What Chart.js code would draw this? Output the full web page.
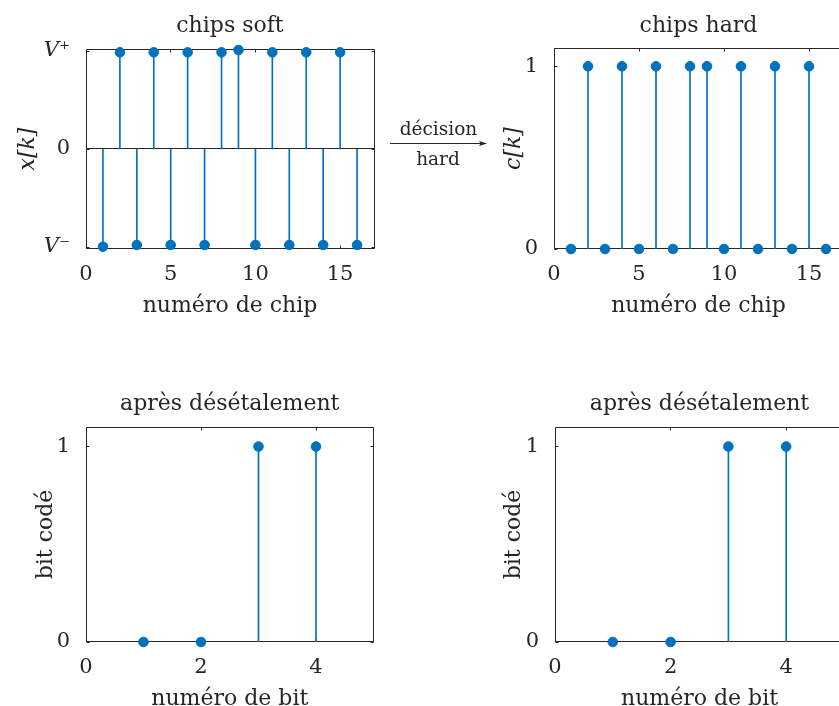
<!DOCTYPE html>
<html>
<head>
<meta charset="utf-8">
<script src="https://cdn.jsdelivr.net/npm/chart.js@4/dist/chart.umd.min.js"></script>
<style>
  html, body { margin: 0; padding: 0; width: 839px; height: 706px; overflow: hidden; background: #fff; }
  canvas { position: absolute; left: 0; top: 0; }
  #arrow { position: absolute; left: 0; top: 0; }
  #arrow text { font-family: "DejaVu Serif", serif; font-size: 18.5px; fill: #262626; }
</style>
</head>
<body>
<canvas id="soft" width="860" height="730"></canvas>
<canvas id="hard" width="860" height="730"></canvas>
<canvas id="bitsSoft" width="860" height="730"></canvas>
<canvas id="bitsHard" width="860" height="730"></canvas>
<svg id="arrow" width="839" height="706">
  <text x="438.5" y="135" text-anchor="middle">décision</text>
  <line x1="390" y1="143.5" x2="481" y2="143.5" stroke="#262626" stroke-width="1"/>
  <polygon points="487,143.5 479,141 480.5,143.5 479,146" fill="#262626"/>
  <text x="438" y="165" text-anchor="middle">hard</text>
</svg>
<script>
// chip / bit indices and values
const chipIndex = [1, 2, 3, 4, 5, 6, 7, 8, 9, 10, 11, 12, 13, 14, 15, 16];
const chipSoft = [-0.977, 0.967, -0.96, 0.967, -0.96, 0.967, -0.96, 0.967, 0.99, -0.96, 0.967, -0.96, 0.967, -0.96, 0.967, -0.96];
const chipHard = [0, 1, 0, 1, 0, 1, 0, 1, 1, 0, 1, 0, 1, 0, 1, 0];
const bitIndex = [1, 2, 3, 4];
const bitsFromSoft = [0, 0, 1, 1];
const bitsFromHard = [0, 0, 1, 1];

// tick positions and labels
const chipTicks = [0, 5, 10, 15];
const bitTicks = [0, 2, 4];
const softTicks = [-0.98, 0, 0.98];
const softTickLabels = ['V\u207B', '0', 'V\u207A'];
const binaryTicks = [0, 1];

const BLUE = '#0072BD';
const INK = '#262626';
const FAMILY = 'DejaVu Serif';
const W = 860, H = 730;
const LABEL_SIZE = 22, TICK_SIZE = 21;
const LH = LABEL_SIZE * 1.2;

Chart.defaults.font.family = FAMILY;
Chart.defaults.color = INK;

// box around the axes, inward tick marks and the stem baseline
const axesFrame = {
  id: 'axesFrame',
  beforeDatasetsDraw(chart) {
    const { ctx, chartArea: a, scales: { x, y } } = chart;
    const crisp = v => Math.floor(v) + 0.5;
    const L = crisp(a.left), R = crisp(a.right), T = crisp(a.top), B = crisp(a.bottom - 0.5);
    const tl = 3;
    ctx.save();
    ctx.strokeStyle = INK;
    ctx.lineWidth = 1;
    ctx.beginPath();
    ctx.moveTo(L, T); ctx.lineTo(R, T); ctx.lineTo(R, B); ctx.lineTo(L, B); ctx.closePath();
    x.ticks.forEach(t => {
      const px = crisp(x.getPixelForValue(t.value));
      ctx.moveTo(px, B); ctx.lineTo(px, B - tl);
      ctx.moveTo(px, T); ctx.lineTo(px, T + tl);
    });
    y.ticks.forEach(t => {
      const py = crisp(y.getPixelForValue(t.value));
      ctx.moveTo(L, py); ctx.lineTo(L + tl, py);
      ctx.moveTo(R, py); ctx.lineTo(R - tl, py);
    });
    const y0 = crisp(y.getPixelForValue(0) - 0.5);
    ctx.moveTo(L, y0); ctx.lineTo(R, y0);
    ctx.stroke();
    ctx.restore();
  }
};

function stemChart(canvasId, spec) {
  const pts = spec.xs.map((k, i) => ({ x: k, y: spec.ys[i] }));
  const xHeight = spec.xTitleY + LH / 2 - spec.area.bottom;
  const padLeft = spec.yTitleX - LH / 2;
  const yWidth = spec.area.left - padLeft;
  return new Chart(document.getElementById(canvasId), {
    type: 'bar',
    data: {
      datasets: [
        { type: 'scatter', data: pts, backgroundColor: BLUE, borderColor: BLUE,
          pointRadius: 4.8, pointBorderWidth: 1, clip: false, order: 1 },
        { type: 'bar', data: pts, backgroundColor: BLUE, borderWidth: 0,
          barThickness: 1, order: 2 }
      ]
    },
    options: {
      responsive: false,
      devicePixelRatio: 1,
      animation: false,
      events: [],
      layout: {
        padding: { left: padLeft, top: 0, right: W - spec.area.right,
                   bottom: H - spec.area.bottom - xHeight }
      },
      plugins: {
        legend: { display: false },
        tooltip: { enabled: false },
        title: {
          display: true, text: spec.title, fullSize: false, color: INK,
          font: { size: LABEL_SIZE, weight: 'normal' },
          padding: { top: spec.titleY - LH / 2, bottom: spec.area.top - spec.titleY - LH / 2 }
        }
      },
      scales: {
        x: {
          type: 'linear', min: spec.xMin, max: spec.xMax, offset: false,
          grid: { display: false }, border: { display: false },
          ticks: { padding: 5, font: { size: TICK_SIZE }, maxRotation: 0, autoSkip: false },
          afterBuildTicks: s => { s.ticks = spec.xTicks.map(v => ({ value: v })); },
          afterFit: s => { s.height = xHeight; },
          title: { display: true, text: spec.xTitle, font: { size: LABEL_SIZE }, padding: 0 }
        },
        y: {
          type: 'linear', min: spec.yMin, max: spec.yMax,
          grid: { display: false }, border: { display: false },
          ticks: {
            padding: 8, autoSkip: false,
            font: spec.yTickFont || { size: TICK_SIZE },
            callback: spec.yTickLabel || (v => String(v))
          },
          afterBuildTicks: s => { s.ticks = spec.yTicks.map(v => ({ value: v })); },
          afterFit: s => { s.width = yWidth; },
          title: { display: true, text: spec.yTitle, padding: 0,
                   font: { size: LABEL_SIZE, style: spec.yTitleItalic ? 'italic' : 'normal' } }
        }
      }
    },
    plugins: [axesFrame]
  });
}

stemChart('soft', {
  xs: chipIndex, ys: chipSoft,
  area: { left: 86, right: 374, top: 49, bottom: 249 },
  titleY: 26.5, xTitleY: 306, yTitleX: 28,
  title: 'chips soft', xTitle: 'numéro de chip', yTitle: 'x[k]', yTitleItalic: true,
  xMin: 0, xMax: 17, xTicks: chipTicks,
  yMin: -1, yMax: 1, yTicks: softTicks,
  yTickLabel: v => softTickLabels[softTicks.indexOf(v)],
  yTickFont: c => ({ family: FAMILY, size: TICK_SIZE,
                     style: (c.tick && c.tick.value !== 0) ? 'italic' : 'normal' })
});

stemChart('hard', {
  xs: chipIndex, ys: chipHard,
  area: { left: 554, right: 843, top: 48, bottom: 249 },
  titleY: 26, xTitleY: 306, yTitleX: 514,
  title: 'chips hard', xTitle: 'numéro de chip', yTitle: 'c[k]', yTitleItalic: true,
  xMin: 0, xMax: 17, xTicks: chipTicks,
  yMin: 0, yMax: 1.1, yTicks: binaryTicks
});

stemChart('bitsSoft', {
  xs: bitIndex, ys: bitsFromSoft,
  area: { left: 86, right: 373.5, top: 427, bottom: 642 },
  titleY: 404, xTitleY: 699, yTitleX: 46.5,
  title: 'après désétalement', xTitle: 'numéro de bit', yTitle: 'bit codé',
  xMin: 0, xMax: 5, xTicks: bitTicks,
  yMin: 0, yMax: 1.1, yTicks: binaryTicks
});

stemChart('bitsHard', {
  xs: bitIndex, ys: bitsFromHard,
  area: { left: 555, right: 844, top: 427, bottom: 642 },
  titleY: 404, xTitleY: 699, yTitleX: 514.5,
  title: 'après désétalement', xTitle: 'numéro de bit', yTitle: 'bit codé',
  xMin: 0, xMax: 5, xTicks: bitTicks,
  yMin: 0, yMax: 1.1, yTicks: binaryTicks
});
</script>
</body>
</html>
